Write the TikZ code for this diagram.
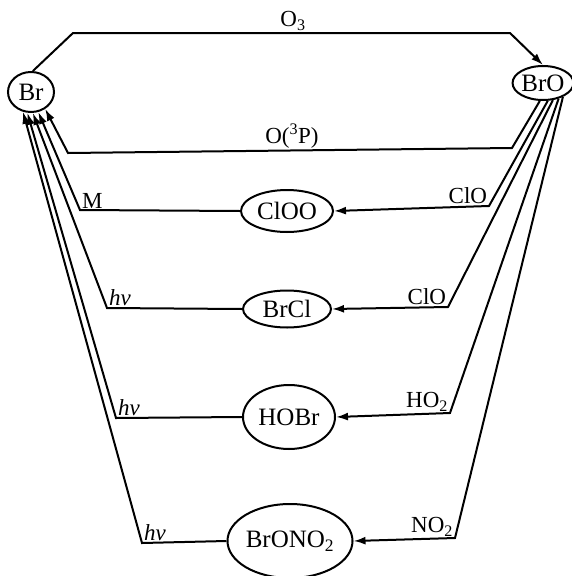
\documentclass[tikz,border=0pt]{standalone}
\usepackage{fontspec}
\setmainfont{Liberation Serif}
\usetikzlibrary{shapes.geometric,arrows.meta}
\begin{document}
\begin{tikzpicture}[x=1pt,y=-1pt,line width=2pt,
  sp/.style={draw,ellipse,inner sep=0pt,font=\fontsize{25}{28}\selectfont},
  lbl/.style={inner sep=1pt,font=\fontsize{23}{25}\selectfont},
  arr/.style={-{Latex[length=12pt,width=8pt]}}]
\useasboundingbox (0,0) rectangle (571,576);
% species
\node[sp,minimum width=46pt,minimum height=40pt] (Br) at (31,92) {Br};
\node[sp,minimum width=54pt,minimum height=34pt] (BrO) at (543,83) {BrO};
\node[sp,minimum width=92pt,minimum height=42pt] (ClOO) at (287,211) {ClOO};
\node[sp,minimum width=88pt,minimum height=37pt] (BrCl) at (287,309) {BrCl};
\node[sp,minimum width=92pt,minimum height=64pt] (HOBr) at (289,417) {HOBr};
\node[sp,minimum width=114pt,minimum height=74pt] (BrONO2) at (290,541) {BrONO\textsubscript{2}};
% bend points
\coordinate (o3a) at (73,33);
\coordinate (o3b) at (510,33);
\coordinate (opa) at (512,148);
\coordinate (opb) at (68,153);
\coordinate (kM) at (80,210);
\coordinate (kC1) at (489,206);
\coordinate (kh1) at (107,308);
\coordinate (kC2) at (448,307);
\coordinate (kh2) at (116,418);
\coordinate (kH) at (450,413);
\coordinate (kh3) at (142,543);
\coordinate (kN) at (455,538);
% connectors
\draw[arr] (Br.85) -- (o3a) -- (o3b) -- (BrO.north);
\draw[arr] (BrO.-100) -- (opa) -- (opb) -- (Br.-50);
\draw[arr] (BrO.-75) -- (kC1) -- (ClOO.east);
\draw[arr] (ClOO.west) -- (kM) -- (Br.-70);
\draw[arr] (BrO.-60) -- (kC2) -- (BrCl.east);
\draw[arr] (BrCl.west) -- (kh1) -- (Br.-85);
\draw[arr] (BrO.-45) -- (kH) -- (HOBr.east);
\draw[arr] (HOBr.west) -- (kh2) -- (Br.-100);
\draw[arr] (BrO.-35) -- (kN) -- (BrONO2.east);
\draw[arr] (BrONO2.west) -- (kh3) -- (Br.-112);
% labels
\node[lbl] (lO3) at (293,21) {O\textsubscript{3}};
\node[lbl] (lOP) at (292,136) {O(\textsuperscript{3}P)};
\node[lbl,anchor=south west] (lM) at (kM) {M};
\node[lbl,anchor=south west] (lh1) at (kh1) {\textit{hv}};
\node[lbl,anchor=south west] (lh2) at (kh2) {\textit{hv}};
\node[lbl,anchor=south west] (lh3) at (kh3) {\textit{hv}};
\node[lbl,anchor=south east] (lC1) at (kC1) {ClO};
\node[lbl,anchor=south east] (lC2) at (kC2) {ClO};
\node[lbl,anchor=south east] (lH) at (kH) {HO\textsubscript{2}};
\node[lbl,anchor=south east] (lN) at (kN) {NO\textsubscript{2}};
\end{tikzpicture}
\end{document}
